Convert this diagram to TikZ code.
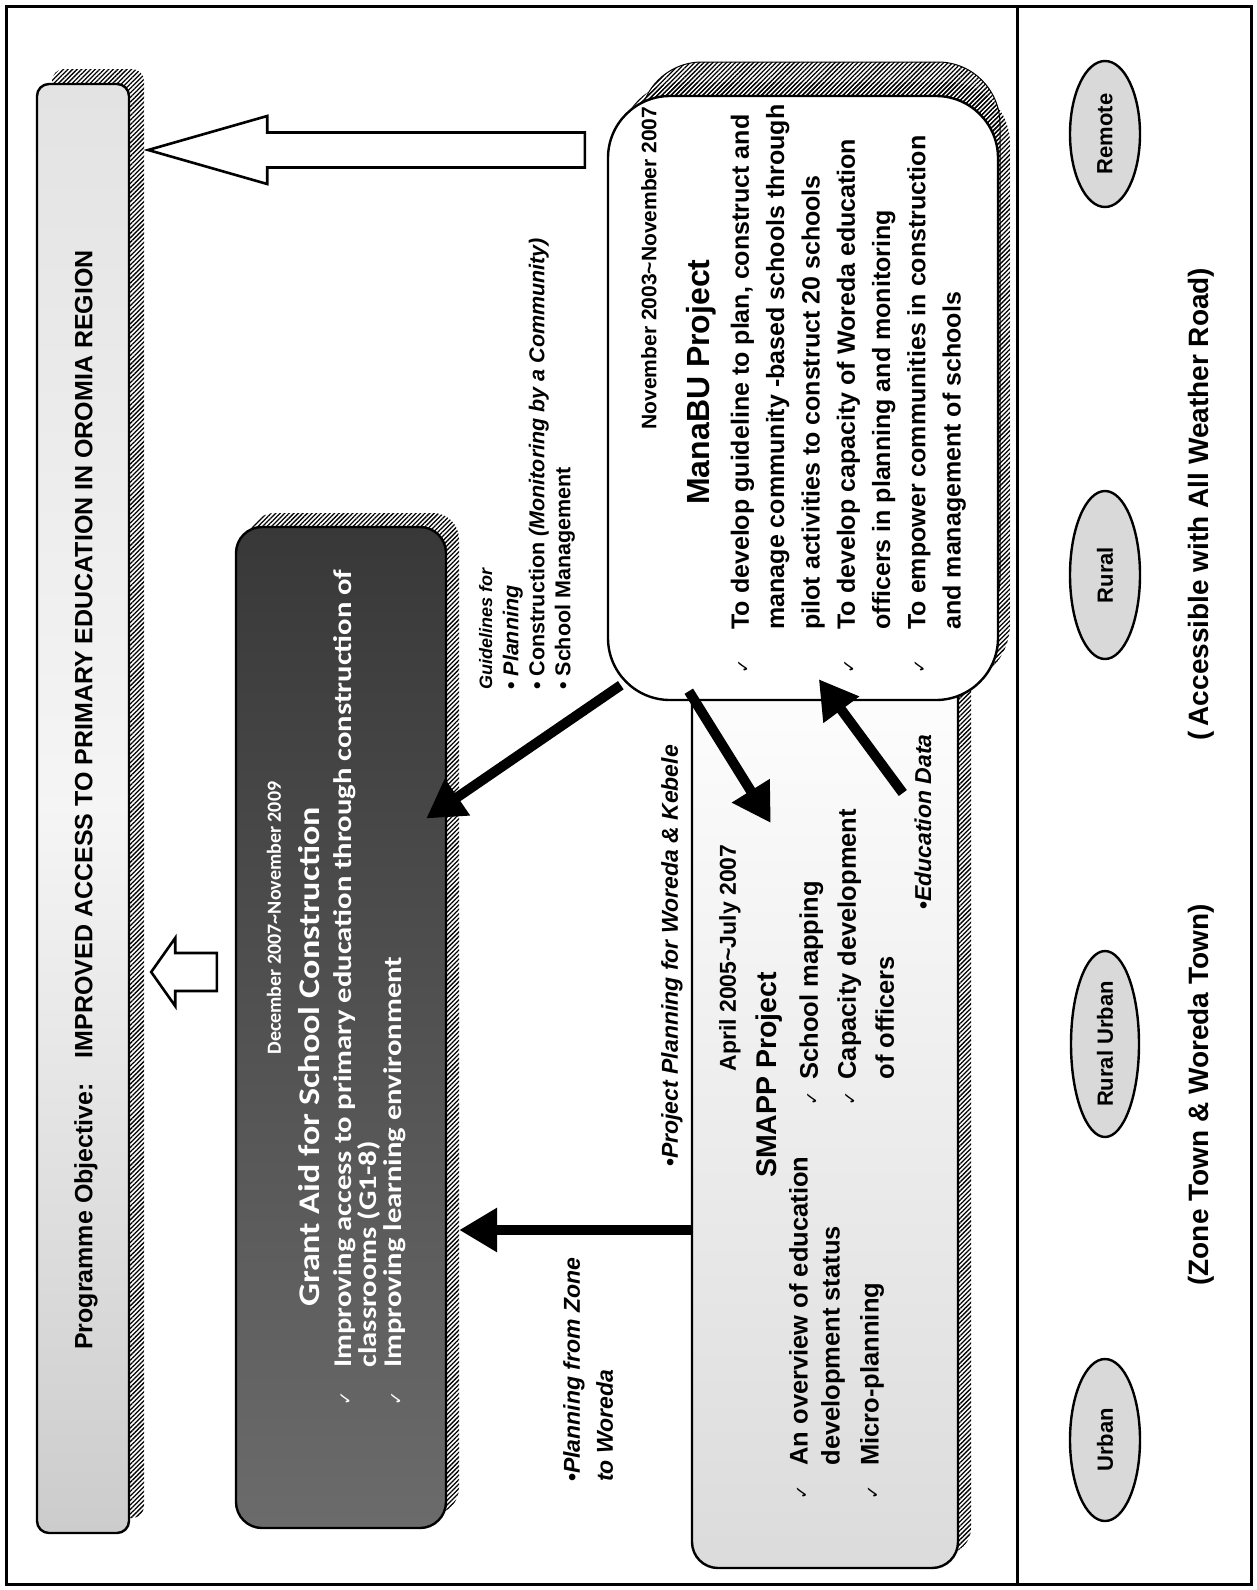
\documentclass[tikz,border=0pt]{standalone}
\usepackage{fontspec}
\setmainfont{Liberation Sans}
\newfontfamily\grantfont{Carlito}
\newfontfamily\grantwide[FakeStretch=1.2]{Carlito}
\newfontfamily\tickfont{DejaVu Sans}
\usetikzlibrary{positioning, arrows.meta, patterns.meta, shapes.geometric, calc}
\newcommand\fs[2]{\fontsize{#1}{#2}\selectfont}
\newcommand\tick{{\tickfont\mdseries\fs{17}{17}✓}}
\tikzset{
  every node/.style = {font=\bfseries, inner sep=0pt},
  vtxt/.style     = {rotate=90, anchor=west, align=left},
  vmid/.style     = {rotate=90, anchor=center, align=center},
  vblock/.style   = {rotate=90, anchor=north west, align=left},
  boxbase/.style  = {rotate=90, draw, line width=2.4pt, rounded corners=14pt},
  hatchbox/.style = {rotate=90, pattern={Lines[angle=45,distance=3.2pt,line width=1.3pt]}, rounded corners=14pt},
  objbox/.style   = {boxbase, rounded corners=12pt, top color=gray!22, bottom color=gray!40, middle color=gray!8},
  grantbox/.style = {boxbase, rounded corners=26pt, top color=black!78, bottom color=black!58},
  manabox/.style  = {boxbase, rounded corners=62pt, fill=white},
  smappbox/.style = {boxbase, rounded corners=26pt, top color=white, bottom color=gray!28},
  area/.style     = {ellipse, draw, line width=2.4pt, fill=gray!30, rotate=90, font=\bfseries\fs{22}{26}},
  flow/.style     = {line width=10pt, -{Triangle[length=38pt,width=42pt]}},
  hollow/.style   = {draw, line width=2.6pt, fill=white, line join=miter},
  guide/.style    = {font=\bfseries\itshape\fs{23}{26}},
  granttxt/.style = {text=white, font=\grantwide\bfseries\fs{25.5}{23}},
}
\begin{document}
\begin{tikzpicture}[x=1pt, y=-1pt]
\fill[white] (0,0) rectangle (1256,1590);
\useasboundingbox (0,0) rectangle (1256,1590);

% programme objective bar
\node[hatchbox, rounded corners=12pt, minimum width=1449, minimum height=92] (objsh) at (98,793.5) {};
\node[objbox, minimum width=1449, minimum height=92] (obj) at (83,808.5) {};
\node[vtxt, font=\bfseries\fs{25}{30}] (objtxt) at (86,1350)
  {Programme Objective:\quad IMPROVED ACCESS TO PRIMARY EDUCATION IN OROMIA REGION};

% grant aid
\node[hatchbox, rounded corners=26pt, minimum width=1001, minimum height=210] (grantsh) at (354,1013.5) {};
\node[grantbox, minimum width=1001, minimum height=210] (grant) at (341,1027.5) {};
\node[vmid, granttxt, font=\grantfont\bfseries\fs{20}{24}] (grantdate) at (274,918) {December 2007\textasciitilde November 2009};
\node[vmid, granttxt, font=\grantwide\bfseries\fs{30}{34}] (granttitle) at (309,1057) {Grant Aid for School Construction};
\node[vblock, granttxt] (grantlist) at (333,1406)
  {\begin{tabular}{@{}l@{\hspace{24pt}}l@{}}
   \tick & Improving access to primary education through construction of\\
         & classrooms (G1-8)\\
   \tick & Improving learning environment
   \end{tabular}};

% SMAPP
\node[hatchbox, rounded corners=26pt, minimum width=928, minimum height=266] (smappsh) at (838,1090) {};
\node[smappbox, minimum width=928, minimum height=266] (smapp) at (825,1104) {};
\node[vmid, font=\bfseries\fs{23}{26}] (smappdate) at (730,958) {April 2005\textasciitilde July 2007};
\node[vmid, font=\bfseries\fs{28.5}{30}] (smapptitle) at (769,1075) {SMAPP Project};
\node[vblock, font=\bfseries\fs{25.5}{32}] (smappleft) at (785,1500)
  {\begin{tabular}{@{}l@{\hspace{20pt}}l@{}}
   \tick & An overview of education\\
         & development status\\[7pt]
   \tick & Micro-planning
   \end{tabular}};
\node[vblock, font=\bfseries\fs{25.5}{38}] (smappright) at (791,1106)
  {\begin{tabular}{@{}l@{\hspace{12pt}}l@{}}
   \tick & School mapping\\
   \tick & Capacity development\\
         & of officers
   \end{tabular}};

% ManaBU
\node[hatchbox, draw, line width=1pt, rounded corners=62pt, minimum width=578, minimum height=360] (manash2) at (820,351) {};
\node[hatchbox, rounded corners=62pt, minimum width=604, minimum height=390] (manash) at (815,384) {};
\node[manabox, minimum width=604, minimum height=390] (mana) at (803,398) {};
\node[vmid, font=\bfseries\fs{21}{24}] (manadate) at (649,268) {November 2003\textasciitilde November 2007};
\node[vmid, font=\bfseries\fs{32}{36}] (manatitle) at (701,382) {ManaBU Project};
\node[vblock, font=\bfseries\fs{25}{35.3}] (manalist) at (724,674)
  {\begin{tabular}{@{}l@{\hspace{30pt}}l@{}}
   \tick & To develop guideline to plan, construct and\\
         & manage community -based schools through\\
         & pilot activities to construct 20 schools\\
   \tick & To develop capacity of Woreda education\\
         & officers in planning and monitoring\\
   \tick & To empower communities in construction\\
         & and management of schools
   \end{tabular}};

% labels on the links
\node[vblock, guide, font=\bfseries\fs{21.5}{26}] (guidetxt) at (479,690)
  {{\itshape\fs{18}{26}Guidelines for}\\
   • {\itshape Planning}\\
   • Construction {\itshape(Monitoring by a Community)}\\
   • School Management};
\node[vtxt, guide] (projlab) at (672,1167) {\textup{•}Project Planning for Woreda \& Kebele};
\node[vblock, guide, font=\bfseries\itshape\fs{23}{33}] (zonelab) at (563,1482) {\textup{•}Planning from Zone\\to Woreda};
\node[vtxt, guide] (edulab) at (923,910) {\textup{•}Education Data};

% links
\draw[flow] ([shift={(14,-16)}]mana.north west) -- ([shift={(-21,-209)}]grant.south);
\draw[flow] ([shift={(82,-10)}]mana.north west) -- ([shift={(80,-281)}]smapp.north);
\draw[flow] ([shift={(212,-311)}]smapp.north) -- ([shift={(212,-22)}]mana.north west);
\draw[flow] ([shift={(0,126)}]smapp.north) -- ([shift={(12,202.5)}]grant.south);

% hollow arrows to the objective
\coordinate (bt) at ([shift={(18,-658.5)}]obj.south);
\coordinate (bs) at ($(bt -| mana.north)+(-22,0)$);
\draw[hollow] (bt) -- ++(119,-34) -- ++(0,16.5) -- ([yshift=17.5pt]bs) -- ([yshift=-17.5pt]bs)
  -- ([shift={(119,17.5)}]bt) -- ([shift={(119,34)}]bt) -- cycle;
\coordinate (st) at ([shift={(21,163.5)}]obj.south);
\coordinate (ss) at ($(st -| grant.north)+(-18,0)$);
\draw[hollow] (st) -- ++(24,-34) -- ++(0,15) -- ([yshift=19pt]ss) -- ([yshift=-19pt]ss)
  -- ([shift={(24,19)}]st) -- ([shift={(24,34)}]st) -- cycle;

% area types
\node[area, minimum width=146, minimum height=70] (remote) at (1105,134) {Remote};
\node[area, minimum width=168, minimum height=70] (rural) at (1105,575) {Rural};
\node[area, minimum width=186, minimum height=68] (ruralurban) at (1105,1044) {Rural Urban};
\node[area, minimum width=162, minimum height=70] (urban) at (1105,1440) {Urban};
\node[vmid, font=\bfseries\fs{28}{30}] (zonetown) at (1201,1095) {(Zone Town \& Woreda Town)};
\node[vmid, font=\bfseries\fs{28}{30}] (access) at (1201,504) {(\,Accessible with All Weather Road)};

% frame
\draw[line width=3pt] (6,6) rectangle (1251,1584);
\draw[line width=3pt] (1017,6) -- (1017,1584);
\end{tikzpicture}
\end{document}
